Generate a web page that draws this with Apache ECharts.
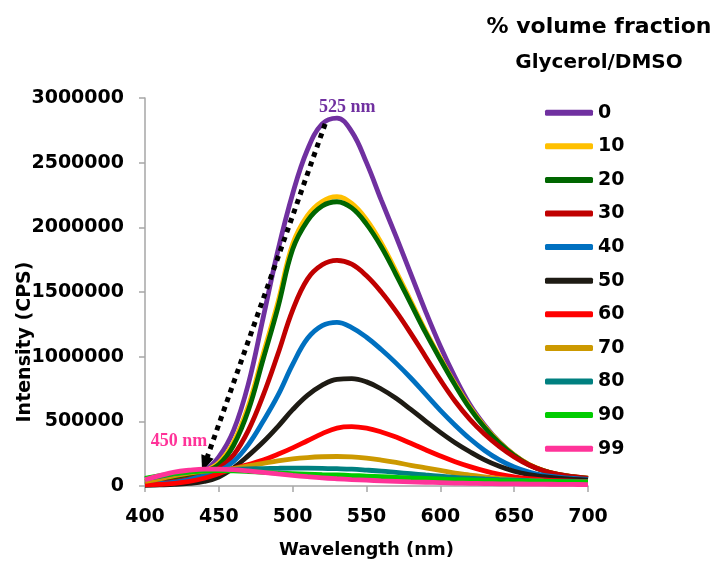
<!DOCTYPE html>
<html><head><meta charset="utf-8">
<script src="https://cdn.jsdelivr.net/npm/echarts@6/dist/echarts.min.js"></script>
<style>html,body{margin:0;padding:0;background:#fff}#c{width:718px;height:567px}</style>
</head><body><div id="c"></div>
<script>
const wavelengths = [400,410,420,430,440,450,460,470,480,490,500,510,520,530,540,550,560,570,580,590,600,610,620,630,640,650,660,670,680,690,700];
const v0  = [20000,35000,55000,80000,115000,225000,430000,790000,1300000,1820000,2260000,2600000,2800000,2845000,2740000,2500000,2210000,1930000,1640000,1350000,1080000,840000,630000,470000,340000,240000,165000,118000,90000,72000,60000];
const v10 = [30000,45000,65000,90000,115000,180000,340000,620000,1020000,1420000,1870000,2090000,2200000,2237000,2185000,2060000,1880000,1660000,1430000,1200000,990000,790000,610000,460000,338000,240000,167000,120000,90000,72000,60000];
const v20 = [35000,50000,68000,90000,112000,165000,315000,585000,980000,1380000,1830000,2050000,2165000,2198000,2150000,2025000,1850000,1635000,1410000,1185000,978000,780000,600000,452000,332000,236000,164000,118000,88000,70000,58000];
const v30 = [10000,20000,35000,55000,85000,135000,240000,430000,700000,1020000,1360000,1600000,1710000,1745000,1715000,1625000,1500000,1350000,1180000,1000000,820000,655000,515000,400000,305000,225000,162000,118000,90000,72000,58000];
const v40 = [10000,18000,30000,50000,78000,115000,190000,320000,500000,700000,940000,1140000,1240000,1265000,1225000,1150000,1055000,950000,835000,710000,585000,470000,365000,275000,202000,147000,108000,83000,68000,58000,52000];
const v50 = [5000,8000,12000,20000,35000,70000,140000,235000,340000,460000,590000,700000,780000,825000,830000,805000,750000,678000,592000,502000,415000,335000,265000,202000,152000,114000,88000,72000,60000,52000,46000];
const v60 = [8000,12000,20000,35000,60000,95000,135000,165000,200000,245000,295000,350000,405000,448000,459000,447000,418000,378000,330000,280000,232000,188000,150000,117000,90000,70000,56000,47000,41000,37000,35000];
const v70 = [35000,55000,80000,100000,115000,125000,135000,155000,175000,195000,210000,220000,226000,228000,225000,215000,200000,182000,160000,140000,120000,100000,85000,70000,58000,48000,42000,38000,35000,33000,31000];
const v80 = [55000,75000,95000,110000,120000,125000,128000,132000,135000,137000,138000,138000,137000,134000,130000,123000,115000,105000,95000,85000,76000,67000,60000,54000,49000,45000,41000,38000,35000,33000,31000];
const v90 = [60000,80000,98000,110000,118000,120000,117000,112000,106000,100000,96000,92000,88000,85000,81000,77000,72000,67000,62000,58000,54000,50000,47000,44000,41000,39000,37000,35000,33000,31000,29000];
const v99 = [48000,80000,108000,122000,130000,130000,126000,117000,105000,93000,82000,72000,63000,56000,50000,45000,40000,36000,32000,29000,26000,23000,21000,19000,17000,16000,15000,14000,13000,12000,11000];

const seriesNames = ['0','10','20','30','40','50','60','70','80','90','99'];
const seriesValues = [v0,v10,v20,v30,v40,v50,v60,v70,v80,v90,v99];
const seriesColors = ['#7030A0','#FFC000','#006600','#C00000','#0070C0','#1E1B14','#FF0000','#CC9900','#008080','#00CC00','#FF3399'];

const xMin = 400, xMax = 700, xInterval = 50;
const yMin = 0, yMax = 3000000, yInterval = 500000;

const peakLabel = '525 nm', baseLabel = '450 nm';
const arrowFrom = [522, 2800000], arrowTo = [440.5, 170000];
const peakLabelAt = [537, 2930000], baseLabelAt = [423, 342000];

const FONT = 'DejaVu Sans';
const chart = echarts.init(document.getElementById('c'), null, {renderer:'canvas'});

const series = seriesNames.map((name, k) => {
  const s = {
    name, type:'line', smooth:0.4, symbol:'none', silent:true,
    data: wavelengths.map((w,i)=>[w, seriesValues[k][i]]),
    lineStyle:{width:4.8, color:seriesColors[k]},
    itemStyle:{color:seriesColors[k]},
    emphasis:{disabled:true},
    z: 2 + k
  };
  if (k === 0) {
    s.markPoint = {
      silent:true, symbol:'rect', symbolSize:1, itemStyle:{color:'rgba(0,0,0,0)'},
      label:{show:true, position:'inside', formatter:peakLabel, color:'#7030A0', fontFamily:'Liberation Serif', fontWeight:'bold', fontSize:18},
      data:[{coord:peakLabelAt}]
    };
  }
  if (k === seriesNames.length - 1) {
    s.markPoint = {
      silent:true, symbol:'rect', symbolSize:1, itemStyle:{color:'rgba(0,0,0,0)'},
      label:{show:true, position:'inside', formatter:baseLabel, color:'#FF3399', fontFamily:'Liberation Serif', fontWeight:'bold', fontSize:18},
      data:[{coord:baseLabelAt}]
    };
    s.markLine = {
      silent:true, symbol:['none','triangle'], symbolSize:[13,16],
      label:{show:false},
      lineStyle:{color:'#000', width:5, type:[5,5], cap:'butt'},
      data:[[{coord:arrowFrom},{coord:arrowTo}]]
    };
  }
  return s;
});

chart.setOption({
  animation:false,
  backgroundColor:'#fff',
  grid:{left:145, right:130, top:98, bottom:81, containLabel:false},
  xAxis:{
    type:'value', min:xMin, max:xMax, interval:xInterval,
    name:'Wavelength (nm)', nameLocation:'middle', nameGap:55,
    nameTextStyle:{fontFamily:FONT, fontWeight:'bold', fontSize:18, color:'#000'},
    axisLine:{lineStyle:{color:'#A6A6A6', width:1.5}},
    axisTick:{show:true, inside:false, length:6, lineStyle:{color:'#A6A6A6', width:1.5}},
    axisLabel:{margin:22, fontFamily:FONT, fontWeight:'bold', fontSize:19, color:'#000'},
    splitLine:{show:false}
  },
  yAxis:{
    type:'value', min:yMin, max:yMax, interval:yInterval,
    axisLine:{show:true, lineStyle:{color:'#A6A6A6', width:1.5}},
    axisTick:{show:true, inside:false, length:6, lineStyle:{color:'#A6A6A6', width:1.5}},
    axisLabel:{margin:21, fontFamily:FONT, fontWeight:'bold', fontSize:19, color:'#000', formatter:v=>String(v)},
    splitLine:{show:false}
  },
  legend:{
    orient:'vertical', left:545, top:102.7, padding:0,
    itemWidth:48, itemHeight:6, itemGap:13.6, icon:'roundRect',
    data:seriesNames, selectedMode:false,
    textStyle:{fontFamily:FONT, fontWeight:'bold', fontSize:19, color:'#000', lineHeight:20}
  },
  graphic:[
    {type:'text', x:599, y:27, silent:true, style:{text:'% volume fraction', font:'bold 22px "DejaVu Sans"', fill:'#000', textAlign:'center', textVerticalAlign:'middle', align:'center', verticalAlign:'middle'}},
    {type:'text', x:599, y:63, silent:true, style:{text:'Glycerol/DMSO', font:'bold 20px "DejaVu Sans"', fill:'#000', textAlign:'center', textVerticalAlign:'middle', align:'center', verticalAlign:'middle'}},
    {type:'text', x:25, y:342, rotation:Math.PI/2, silent:true, style:{text:'Intensity (CPS)', font:'bold 19px "DejaVu Sans"', fill:'#000', textAlign:'center', textVerticalAlign:'middle', align:'center', verticalAlign:'middle'}}
  ],
  series
});
</script>
</body></html>
